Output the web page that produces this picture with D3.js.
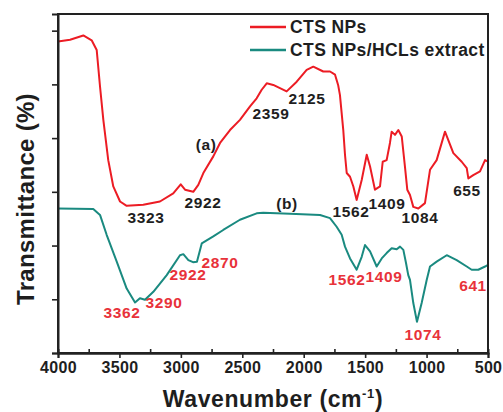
<!DOCTYPE html>
<html>
<head>
<meta charset="utf-8">
<script src="https://cdn.jsdelivr.net/npm/d3@7"></script>
<style>
  body { margin: 0; background: #fff; }
  svg { display: block; font-family: "Liberation Sans", Arial, sans-serif; font-weight: bold; }
</style>
</head>
<body>
<svg id="chart"></svg>
<script>
// curve (a) CTS NPs : [wavenumber, transmittance (a.u.)]
const ctsNPs = [
  [4000, 5.80], [3902, 5.83], [3794, 5.91], [3726, 5.82], [3685, 5.64], [3658, 4.96],
  [3631, 4.34], [3591, 3.59], [3550, 3.10], [3495, 2.82], [3441, 2.74], [3306, 2.76],
  [3170, 2.82], [3062, 2.97], [3001, 3.14], [2966, 3.04], [2899, 3.00], [2858, 3.13],
  [2817, 3.35], [2736, 3.66], [2681, 3.91], [2600, 4.15], [2519, 4.34], [2437, 4.59],
  [2383, 4.74], [2342, 4.90], [2301, 5.02], [2248, 4.99], [2139, 4.87], [2057, 5.05],
  [1976, 5.27], [1922, 5.33], [1841, 5.24], [1786, 5.24], [1745, 5.18], [1720, 4.99],
  [1705, 4.80], [1678, 4.15], [1664, 3.69], [1650, 3.35], [1623, 3.28], [1596, 3.10],
  [1569, 2.85], [1528, 3.22], [1487, 3.69], [1460, 3.47], [1420, 3.04], [1379, 3.10],
  [1357, 3.56], [1325, 3.59], [1298, 3.91], [1284, 4.12], [1257, 4.06], [1230, 4.15],
  [1202, 4.03], [1176, 3.47], [1157, 3.04], [1135, 2.94], [1108, 2.72], [1067, 2.69],
  [1013, 2.79], [972, 3.41], [918, 3.59], [850, 4.12], [782, 3.72], [714, 3.56],
  [673, 3.44], [660, 3.25], [620, 3.31], [565, 3.38], [524, 3.59], [500, 3.56]
];

// curve (b) CTS NPs/HCLs extract
const ctsHCL = [
  [4000, 2.69], [3713, 2.68], [3658, 2.57], [3604, 2.20], [3522, 1.70], [3441, 1.20],
  [3373, 0.94], [3333, 1.02], [3292, 0.99], [3224, 1.14], [3115, 1.45], [3007, 1.82],
  [2980, 1.84], [2939, 1.73], [2901, 1.69], [2869, 1.70], [2830, 2.04], [2736, 2.17],
  [2655, 2.29], [2519, 2.48], [2383, 2.60], [2329, 2.61], [2112, 2.59], [1867, 2.57],
  [1786, 2.51], [1732, 2.35], [1691, 2.20], [1664, 1.98], [1623, 1.76], [1569, 1.55],
  [1528, 1.79], [1501, 2.01], [1460, 1.89], [1406, 1.61], [1365, 1.76], [1325, 1.86],
  [1284, 1.95], [1243, 1.93], [1216, 1.98], [1189, 1.92], [1167, 1.67], [1149, 1.45],
  [1135, 1.36], [1108, 0.93], [1078, 0.58], [1040, 0.93], [999, 1.36], [972, 1.61],
  [918, 1.70], [836, 1.82], [755, 1.73], [673, 1.61], [633, 1.55], [579, 1.55],
  [524, 1.61], [500, 1.64]
];

const seriesNames = ["CTS NPs", "CTS NPs/HCLs extract"];
const seriesColors = ["#ec1c24", "#1a8a80"];

const xTicks = [4000, 3500, 3000, 2500, 2000, 1500, 1000, 500];
const xMinorTicks = [3750, 3250, 2750, 2250, 1750, 1250, 750];
const yTicks = [0, 1, 2, 3, 4, 5, 6];

// peak labels: [text, wavenumber, y, colour index]
const peakLabels = [
  ["(a)", 2795, 3.78, 0], ["2359", 2266, 4.36, 0], ["2125", 1973, 4.64, 0],
  ["2922", 2820, 2.70, 0], ["3323", 3284, 2.42, 0], ["1562", 1615, 2.53, 0],
  ["1409", 1322, 2.68, 0], ["1084", 1053, 2.42, 0], ["655", 671, 2.92, 0],
  ["(b)", 2136, 2.68, 0],
  ["3362", 3479, 0.65, 1], ["3290", 3137, 0.84, 1], ["2922", 2942, 1.36, 1],
  ["2870", 2681, 1.58, 1], ["1562", 1648, 1.27, 1], ["1409", 1347, 1.32, 1],
  ["1074", 1029, 0.24, 1], ["641", 622, 1.15, 1]
];
const labelColors = ["#1e1e1e", "#e8323a"];

const width = 503;
const height = 412;
const margin = { top: 14, right: 15, bottom: 59, left: 58 };

const svg = d3.select("#chart").attr("width", width).attr("height", height);

const xScale = d3.scaleLinear()
  .domain([4000, 500])
  .range([margin.left, width - margin.right]);

const yScale = d3.scaleLinear()
  .domain([0, 6.31])
  .range([height - margin.bottom, margin.top]);

const line = d3.line()
  .x((d) => xScale(d[0]))
  .y((d) => yScale(d[1]));

// curves
[ctsNPs, ctsHCL].forEach((data, i) => {
  svg.append("path")
    .datum(data)
    .attr("fill", "none")
    .attr("stroke", seriesColors[i])
    .attr("stroke-width", 2)
    .attr("stroke-linejoin", "round")
    .attr("d", line);
});

// peak labels
svg.append("g")
  .selectAll("text")
  .data(peakLabels)
  .enter()
  .append("text")
  .attr("x", (d) => xScale(d[1]))
  .attr("y", (d) => yScale(d[2]))
  .attr("text-anchor", "middle")
  .attr("fill", (d) => labelColors[d[3]])
  .style("font-size", "15.5px")
  .style("letter-spacing", "0.6px")
  .text((d) => d[0]);

// frame
svg.append("rect")
  .attr("x", margin.left)
  .attr("y", margin.top)
  .attr("width", width - margin.left - margin.right)
  .attr("height", height - margin.top - margin.bottom)
  .attr("fill", "none")
  .attr("stroke", "#222")
  .attr("stroke-width", 2);

// axes
const xAxis = svg.append("g")
  .attr("transform", `translate(0, ${height - margin.bottom})`)
  .call(d3.axisBottom(xScale).tickValues(xTicks).tickSize(5).tickPadding(4).tickFormat(d3.format("d")));

svg.append("g")
  .attr("transform", `translate(0, ${height - margin.bottom})`)
  .call(d3.axisBottom(xScale).tickValues(xMinorTicks).tickSize(-4).tickFormat(""));

svg.append("g")
  .attr("transform", `translate(${margin.left}, 0)`)
  .call(d3.axisLeft(yScale).tickValues(yTicks).tickSize(6).tickFormat(""));

svg.selectAll(".domain").attr("stroke", "#222").attr("stroke-width", 2);
svg.selectAll(".tick line").attr("stroke", "#222").attr("stroke-width", 1.6);
xAxis.selectAll("text")
  .attr("fill", "#1e1e1e")
  .style("font-size", "16px")
  .style("font-family", "'Liberation Sans', Arial, sans-serif")
  .style("font-weight", "bold")
  .style("letter-spacing", "0.3px");

// axis titles
const xTitle = svg.append("text")
  .attr("x", 273)
  .attr("y", 407)
  .attr("text-anchor", "middle")
  .attr("fill", "#1e1e1e")
  .style("font-size", "23px")
  .style("letter-spacing", "0.6px");
xTitle.append("tspan").text("Wavenumber (cm");
xTitle.append("tspan").attr("dy", -9).style("font-size", "13px").text("-1");
xTitle.append("tspan").attr("dy", 9).text(")");

svg.append("text")
  .attr("transform", "rotate(-90)")
  .attr("x", -199)
  .attr("y", 34)
  .attr("text-anchor", "middle")
  .attr("fill", "#1e1e1e")
  .style("font-size", "24px")
  .style("letter-spacing", "0.3px")
  .text("Transmittance (%)");

// legend
const legend = svg.append("g");
seriesNames.forEach((name, i) => {
  const ly = 27 + i * 23;
  legend.append("line")
    .attr("x1", 250).attr("x2", 286)
    .attr("y1", ly).attr("y2", ly)
    .attr("stroke", seriesColors[i])
    .attr("stroke-width", 2.5);
  legend.append("text")
    .attr("x", 290)
    .attr("y", ly + 6)
    .attr("fill", "#1e1e1e")
    .style("font-size", "17.5px")
    .style("letter-spacing", "0.4px")
    .text(name);
});
</script>
</body>
</html>
